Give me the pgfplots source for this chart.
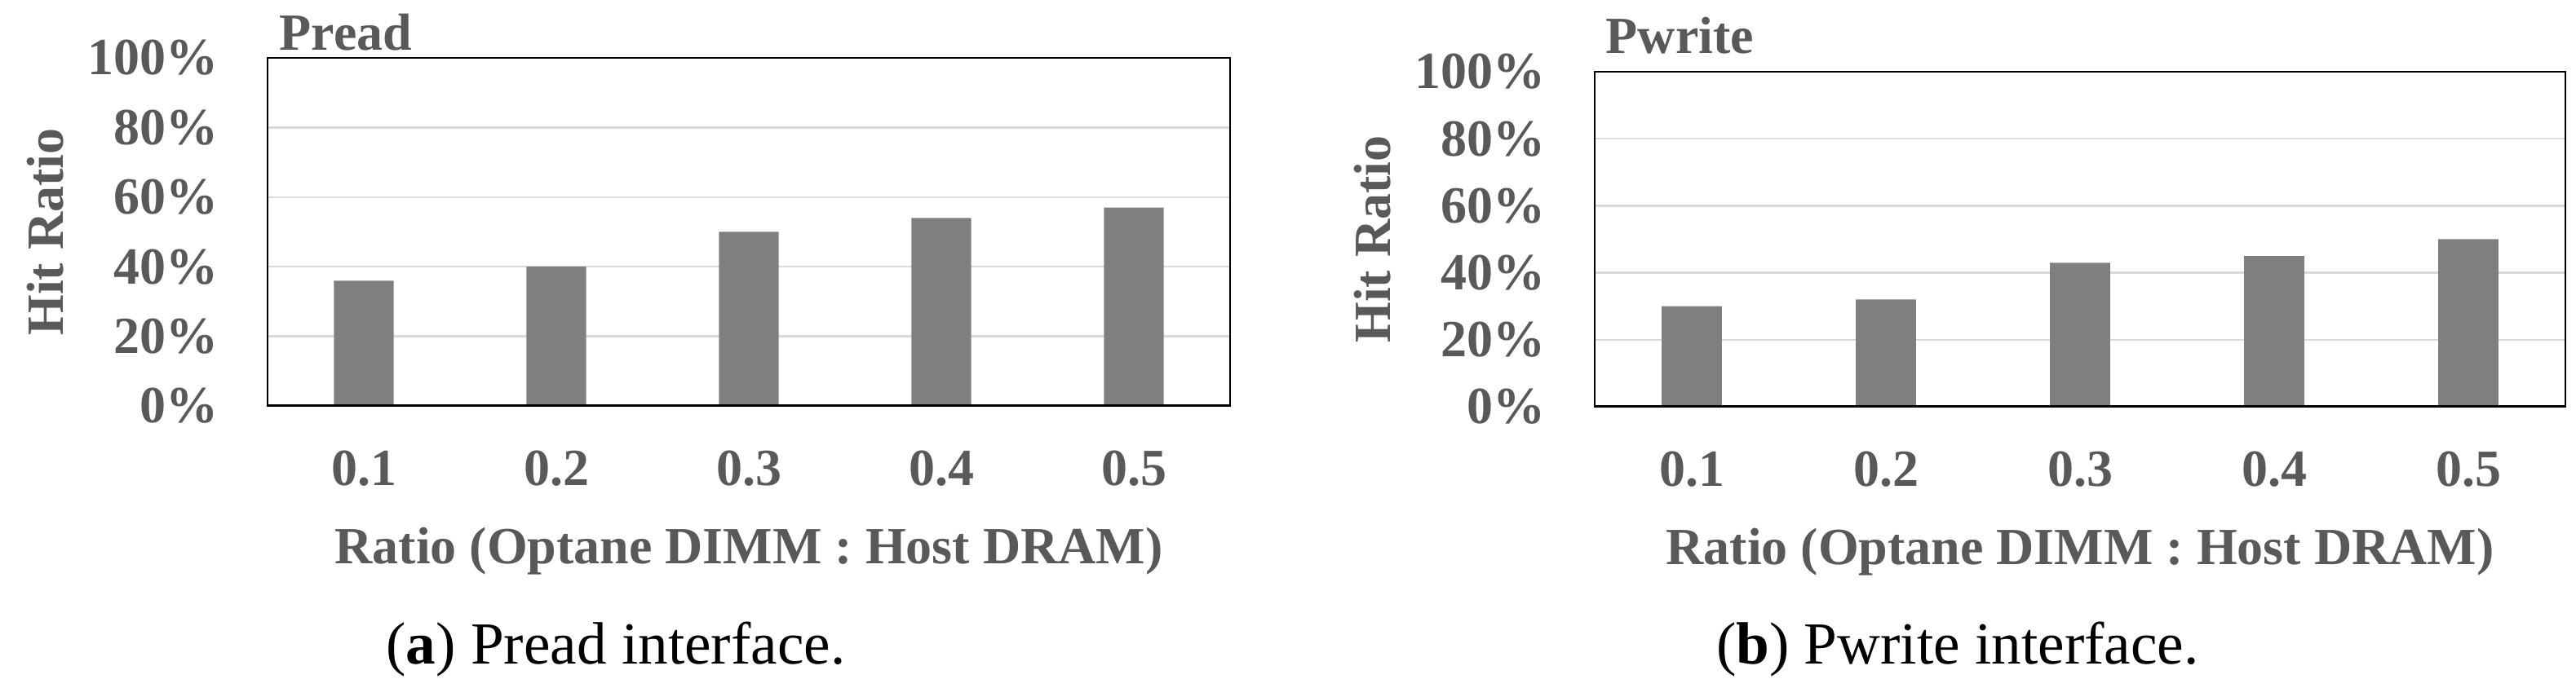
\documentclass[border=0pt]{standalone}
\usepackage{fontspec}
\setmainfont{Liberation Serif}
\usepackage{pgfplots}
\pgfplotsset{compat=1.18}

\definecolor{labgray}{HTML}{595959}
\definecolor{bargray}{HTML}{7F7F7F}
\definecolor{gridgray}{HTML}{D9D9D9}

% 1 px of the reference = 0.25pt
\newcommand\lab{\fontsize{16}{19.2}\selectfont\bfseries\color{labgray}}

\pgfplotsset{
  hitstyle/.style={
    scale only axis,
    anchor=north west,
    ybar,
    bar width=0.31,
    xmin=-0.5, xmax=4.5,
    ymin=0, ymax=100,
    xtick=data,
    xticklabels={0.1,0.2,0.3,0.4,0.5},
    ytick={0,20,40,60,80,100},
    yticklabels={0\%,20\%,40\%,60\%,80\%,100\%},
    major tick length=0pt,
    axis line style={black, line width=0.7pt},
    ymajorgrids,
    grid style={gridgray, line width=0.6pt},
    ticklabel style={font=\lab, inner sep=0pt},
    yticklabel style={anchor=east, xshift=-15pt},
    xticklabel style={anchor=north, yshift=-13.5pt},
    xlabel={Ratio (Optane DIMM : Host DRAM)},
    xlabel style={font=\lab, inner sep=0pt, anchor=north,
      at={([yshift=-37pt]axis description cs:0.5,0)}},
    ylabel={Hit Ratio},
    ylabel style={font=\lab, inner sep=0pt, anchor=center,
      at={([xshift=-68pt]axis description cs:0,0.5)}},
    title style={font=\lab, inner sep=0pt, anchor=base west,
      at={(axis description cs:0,1)}},
  },
}

\begin{document}
\begin{tikzpicture}
\useasboundingbox (0,0) rectangle (789.5pt,-211pt);

% (a) Pread
\begin{axis}[hitstyle,
  at={(82pt,-17.75pt)}, width=295pt, height=106.75pt,
  title={Pread},
  title style={xshift=3.5pt, yshift=-3.75pt},
]
\addplot[fill=bargray, draw=none] coordinates {
  (0,36) (1,40) (2,50) (3,54) (4,57)
};
\draw[black, line width=1pt] (axis cs:-0.5,0) -- (axis cs:4.5,0);
\end{axis}

% (b) Pwrite
\begin{axis}[hitstyle,
  at={(488.75pt,-22pt)}, width=297.5pt, height=102.75pt,
  title={Pwrite},
  title style={xshift=3.25pt, yshift=-0.5pt},
]
\addplot[fill=bargray, draw=none] coordinates {
  (0,30) (1,32) (2,43) (3,45) (4,50)
};
\draw[black, line width=1pt] (axis cs:-0.5,0) -- (axis cs:4.5,0);
\end{axis}

\node[anchor=base, inner sep=0pt, font=\fontsize{18.3}{22}\selectfont]
  at (188.75pt,-203.5pt) {(\textbf{a}) Pread interface.};
\node[anchor=base, inner sep=0pt, font=\fontsize{18.3}{22}\selectfont]
  at (600pt,-203.5pt) {(\textbf{b}) Pwrite interface.};
\end{tikzpicture}
\end{document}
